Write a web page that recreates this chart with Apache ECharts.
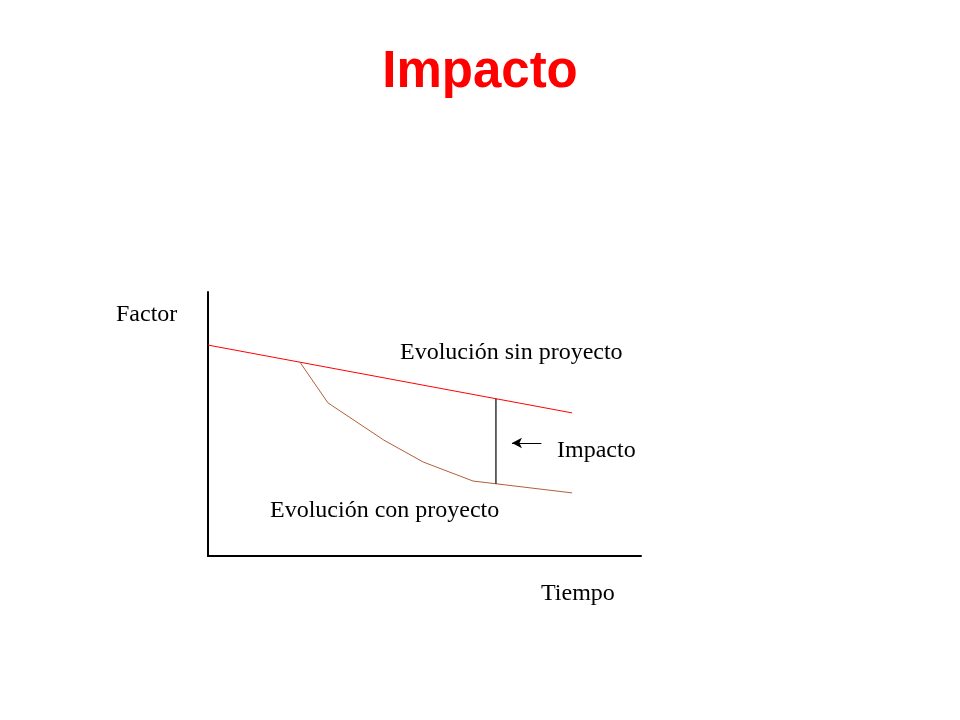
<!DOCTYPE html>
<html>
<head>
<meta charset="utf-8">
<title>Impacto</title>
<script src="https://cdn.jsdelivr.net/npm/echarts@6/dist/echarts.min.js"></script>
<style>
  html, body { margin: 0; padding: 0; background: #fff; }
  #chart { width: 960px; height: 720px; }
</style>
</head>
<body>
<div id="chart"></div>
<script>
// values are on a 0..100 scale for both axes (no tick labels in the original)
var sinProyectoX = [0, 84.1];
var sinProyectoY = [79.9, 54.2];

var conProyectoX = [21.2, 27.7, 40.6, 49.7, 61.2, 84.1];
var conProyectoY = [73.5, 58.0, 43.9, 35.6, 28.4, 23.9];

var impactoX = [66.5, 66.5];
var impactoY = [59.6, 27.4];

var flechaX = [77.0, 70.2];
var flechaY = [42.8, 42.8];

function pairs(xs, ys) {
  return xs.map(function (x, i) { return [x, ys[i]]; });
}

var serif = "'Liberation Serif', 'Times New Roman', serif";

var chart = echarts.init(document.getElementById("chart"));

chart.setOption({
  animation: false,
  title: {
    text: "Impacto",
    left: "center",
    top: 42,
    textStyle: { color: "#ff0000", fontSize: 51, fontWeight: "bold", fontFamily: "'Liberation Sans', Arial, sans-serif" }
  },
  grid: { left: 208, right: 319, top: 292, bottom: 164 },
  xAxis: {
    type: "value", min: 0, max: 100,
    axisLine: { onZero: false, lineStyle: { color: "#000", width: 2 } },
    axisTick: { show: false }, axisLabel: { show: false }, splitLine: { show: false }
  },
  yAxis: {
    type: "value", min: 0, max: 100,
    axisLine: { show: true, onZero: false, lineStyle: { color: "#000", width: 2 } },
    axisTick: { show: false }, axisLabel: { show: false }, splitLine: { show: false }
  },
  graphic: [
    { type: "text", left: 116, top: 303, style: { text: "Factor", font: "24px " + serif, fill: "#000" } },
    { type: "text", left: 400, top: 341, style: { text: "Evolución sin proyecto", font: "24px " + serif, fill: "#000" } },
    { type: "text", left: 557, top: 439, style: { text: "Impacto", font: "24px " + serif, fill: "#000" } },
    { type: "text", left: 270, top: 499, style: { text: "Evolución con proyecto", font: "24px " + serif, fill: "#000" } },
    { type: "text", left: 541, top: 582, style: { text: "Tiempo", font: "24px " + serif, fill: "#000" } }
  ],
  series: [
    {
      name: "Evolución sin proyecto",
      type: "line",
      data: pairs(sinProyectoX, sinProyectoY),
      showSymbol: false,
      lineStyle: { color: "#ff0000", width: 1 }
    },
    {
      name: "Evolución con proyecto",
      type: "line",
      data: pairs(conProyectoX, conProyectoY),
      showSymbol: false,
      lineStyle: { color: "#b0603a", width: 1 }
    },
    {
      name: "Impacto",
      type: "line",
      data: pairs(impactoX, impactoY),
      showSymbol: false,
      lineStyle: { color: "#000", width: 1.2 },
      markLine: {
        silent: true,
        label: { show: false },
        lineStyle: { color: "#000", width: 1, type: "solid" },
        data: [[
          { coord: [flechaX[0], flechaY[0]], symbol: "none" },
          { coord: [flechaX[1], flechaY[1]], symbol: "arrow", symbolSize: [8, 10] }
        ]]
      }
    }
  ]
});
</script>
</body>
</html>
